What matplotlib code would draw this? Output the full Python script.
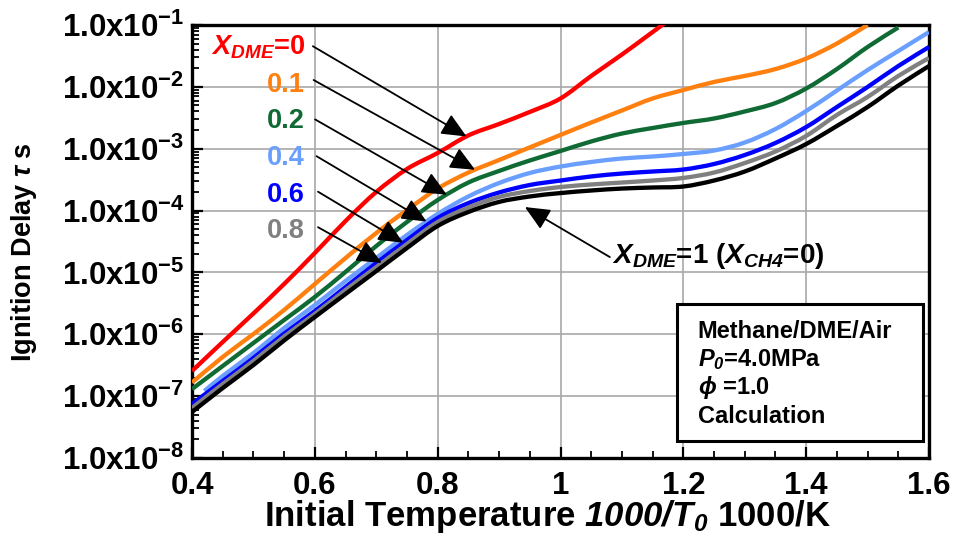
import numpy as np
import matplotlib
matplotlib.use("Agg")
import matplotlib.pyplot as plt
from matplotlib.ticker import MultipleLocator, LogLocator, FuncFormatter, NullFormatter
from matplotlib.patches import Rectangle, PathPatch
from matplotlib.path import Path

plt.rcParams['font.family'] = ['Liberation Sans', 'DejaVu Sans']
plt.rcParams['font.weight'] = 'bold'
plt.rcParams['axes.labelweight'] = 'bold'
plt.rcParams['mathtext.fontset'] = 'custom'
plt.rcParams['mathtext.rm'] = 'Liberation Sans:bold'
plt.rcParams['mathtext.it'] = 'Liberation Sans:italic:bold'
plt.rcParams['mathtext.sf'] = 'Liberation Sans:italic:bold'
plt.rcParams['mathtext.bf'] = 'Liberation Sans:bold'
plt.rcParams['mathtext.default'] = 'rm'

# inverse initial temperature, 1000/T0 [1000/K]
inv_temp = [0.40, 0.45, 0.50, 0.55, 0.60, 0.65, 0.70, 0.75, 0.80, 0.85, 0.90,
            0.95, 1.00, 1.05, 1.10, 1.15, 1.20, 1.25, 1.30, 1.35, 1.40, 1.45,
            1.50, 1.55, 1.60]
inv_temp_dme04 = [0.42] + inv_temp[1:]

# ignition delay [s] for each DME mole fraction in the fuel
tau_dme00 = [2.55e-7, 7.50e-7, 2.17e-6, 6.50e-6, 2.06e-5, 6.78e-5, 2.00e-4,
             4.70e-4, 8.53e-4, 1.64e-3, 2.51e-3, 3.93e-3, 6.49e-3, 1.50e-2,
             3.33e-2, 7.70e-2, 1.78e-1]
tau_dme01 = [1.66e-7, 4.30e-7, 1.01e-6, 2.47e-6, 6.50e-6, 1.71e-5, 4.34e-5,
             1.02e-4, 2.27e-4, 4.12e-4, 6.57e-4, 1.05e-3, 1.67e-3, 2.65e-3,
             4.15e-3, 6.49e-3, 8.89e-3, 1.20e-2, 1.50e-2, 1.94e-2, 2.87e-2,
             5.02e-2, 1.00e-1]
tau_dme02 = [1.30e-7, 3.07e-7, 7.23e-7, 1.70e-6, 4.01e-6, 1.02e-5, 2.67e-5,
             6.53e-5, 1.48e-4, 2.84e-4, 4.37e-4, 6.45e-4, 9.18e-4, 1.31e-3,
             1.76e-3, 2.16e-3, 2.61e-3, 3.08e-3, 4.00e-3, 5.48e-3, 9.40e-3,
             1.94e-2, 4.41e-2, 9.12e-2]
tau_dme04 = [1.21e-7, 2.12e-7, 4.98e-7, 1.26e-6, 2.97e-6, 7.26e-6, 1.71e-5,
             4.03e-5, 8.81e-5, 1.69e-4, 2.79e-4, 4.05e-4, 5.15e-4, 6.10e-4,
             6.95e-4, 7.48e-4, 8.22e-4, 9.35e-4, 1.26e-3, 2.08e-3, 4.07e-3,
             8.73e-3, 1.87e-2, 3.80e-2, 7.70e-2]
tau_dme06 = [7.46e-8, 1.76e-7, 4.14e-7, 1.03e-6, 2.38e-6, 5.81e-6, 1.42e-5,
             3.34e-5, 7.59e-5, 1.32e-4, 1.96e-4, 2.59e-4, 3.06e-4, 3.56e-4,
             3.97e-4, 4.28e-4, 4.61e-4, 5.66e-4, 7.91e-4, 1.24e-3, 2.24e-3,
             4.72e-3, 9.95e-3, 2.17e-2, 4.41e-2]
tau_dme08 = [6.43e-8, 1.57e-7, 3.70e-7, 9.20e-7, 2.13e-6, 5.20e-6, 1.22e-5,
             2.88e-5, 6.53e-5, 1.12e-4, 1.66e-4, 2.07e-4, 2.40e-4, 2.64e-4,
             2.84e-4, 3.06e-4, 3.37e-4, 4.12e-4, 5.87e-4, 9.02e-4, 1.61e-3,
             3.51e-3, 6.86e-3, 1.50e-2, 2.93e-2]
tau_dme10 = [5.54e-8, 1.35e-7, 3.18e-7, 7.94e-7, 1.90e-6, 4.48e-6, 1.05e-5,
             2.48e-5, 5.63e-5, 9.48e-5, 1.38e-4, 1.69e-4, 1.92e-4, 2.11e-4,
             2.27e-4, 2.36e-4, 2.45e-4, 3.06e-4, 4.28e-4, 6.95e-4, 1.19e-3,
             2.33e-3, 4.72e-3, 1.05e-2, 2.17e-2]

dme_labels = ["0", "0.1", "0.2", "0.4", "0.6", "0.8"]
colors = ["#ff0000", "#ff7f0f", "#0f6a34", "#6a9fff", "#0000ff", "#808080", "#000000"]

series = [
    (inv_temp[:len(tau_dme00)], tau_dme00),
    (inv_temp[:len(tau_dme01)], tau_dme01),
    (inv_temp[:len(tau_dme02)], tau_dme02),
    (inv_temp_dme04, tau_dme04),
    (inv_temp, tau_dme06),
    (inv_temp, tau_dme08),
    (inv_temp, tau_dme10),
]


def smooth_path(xs, ys):
    """Cubic Bezier path through the points (Catmull-Rom tangents in log-y)."""
    x = np.asarray(xs, float)
    ly = np.log10(np.asarray(ys, float))
    p = np.column_stack([x, ly])
    ext = np.vstack([p[0], p, p[-1]])
    verts = [p[0]]
    codes = [Path.MOVETO]
    for i in range(len(p) - 1):
        p0, p1, p2, p3 = ext[i], ext[i + 1], ext[i + 2], ext[i + 3]
        c1 = p1 + (p2 - p0) / 6.0
        c2 = p2 - (p3 - p1) / 6.0
        verts += [c1, c2, p2]
        codes += [Path.CURVE4] * 3
    verts = np.array(verts)
    verts[:, 1] = 10 ** verts[:, 1]
    return Path(verts, codes)


fig = plt.figure(figsize=(9.56, 5.43), dpi=100)
ax = fig.add_axes([192 / 956, 1 - 458 / 543, 737 / 956, 433 / 543])

ax.set_yscale('log')
ax.set_xlim(0.4, 1.6)
ax.set_ylim(1e-8, 1e-1)

for (xs, ys), c in zip(series, colors):
    ax.add_patch(PathPatch(smooth_path(xs, ys), facecolor='none', edgecolor=c,
                           lw=3.1, capstyle='butt', joinstyle='round',
                           transform=ax.transData, zorder=3))

ax.xaxis.set_major_locator(MultipleLocator(0.2))
ax.xaxis.set_minor_locator(MultipleLocator(0.05))
ax.xaxis.set_major_formatter(FuncFormatter(lambda v, p: f"{v:g}"))
ax.yaxis.set_major_locator(LogLocator(base=10, numticks=20))
ax.yaxis.set_minor_locator(LogLocator(base=10, subs=np.arange(2, 10), numticks=20))
ax.yaxis.set_minor_formatter(NullFormatter())
ax.yaxis.set_major_formatter(
    FuncFormatter(lambda v, p: r"1.0x10$^{%d}$" % int(round(np.log10(v)))))

ax.tick_params(which='both', direction='in', top=False, right=False,
               labelsize=22.5)
ax.tick_params(axis='y', pad=5.5)
ax.tick_params(axis='x', pad=9)
ax.tick_params(which='major', length=8, width=1.6)
ax.tick_params(which='minor', length=5, width=1.3)

ax.grid(True, which='major', color='#a8a8a8', lw=1.2)
ax.set_axisbelow(True)
for s in ax.spines.values():
    s.set_linewidth(2.4)
    s.set_color('black')

ax.set_xlabel(r"Initial Temperature $\mathsf{1000/T_0}$ 1000/K", fontsize=25)
ax.set_ylabel(r"Ignition Delay $\mathit{\tau}$ s", fontsize=19.5)
ax.xaxis.set_label_coords(0.4817, -0.092)
ax.yaxis.set_label_coords(-0.208, 0.4765)


def on_curve(x, xs, ys):
    return 10 ** np.interp(x, xs, np.log10(ys))


# mixture labels with arrows pointing to their curves
label_y = [0.931, 0.845, 0.762, 0.677, 0.591, 0.508]
tail_pos = [(0.164, 0.951), (0.165, 0.873), (0.167, 0.782),
            (0.169, 0.697), (0.171, 0.615), (0.171, 0.533)]
tip_x = [0.847, 0.861, 0.815, 0.782, 0.744, 0.709]
arrow_kw = dict(arrowstyle='-|>,head_length=0.8,head_width=0.36',
                mutation_scale=19, color='black', lw=1.3,
                shrinkA=0, shrinkB=0)

for i, lab in enumerate(dme_labels):
    txt = r"$\mathsf{X}_{\mathsf{DME}}$=0" if i == 0 else lab
    ax.text(0.1533, label_y[i], txt, transform=ax.transAxes, ha='right',
            va='baseline', color=colors[i], fontsize=19.5)
    xs, ys = series[i]
    ax.annotate('', xy=(tip_x[i], on_curve(tip_x[i], xs, ys)), xycoords='data',
                xytext=tail_pos[i], textcoords='axes fraction',
                arrowprops=arrow_kw, zorder=5)

ax.annotate('', xy=(0.942, 1.14e-4), xycoords='data',
            xytext=(0.567, 0.464), textcoords='axes fraction',
            arrowprops=arrow_kw, zorder=5)
ax.text(0.570, 0.451, r"$\mathsf{X}_{\mathsf{DME}}$=1 ($\mathsf{X}_{\mathsf{CH4}}$=0)",
        transform=ax.transAxes, ha='left', va='baseline', fontsize=20,
        color='black')

# conditions box
ax.add_patch(Rectangle((0.6577, 0.040), 0.3346, 0.3157, transform=ax.transAxes,
                       facecolor='white', edgecolor='black', lw=2.2, zorder=6))
cond_lines = ["Methane/DME/Air", r"$\mathsf{P_0}$=4.0MPa",
              r"$\mathsf{\phi}$ =1.0", "Calculation"]
cond_y = [0.277, 0.2125, 0.148, 0.0815]
for t, y in zip(cond_lines, cond_y):
    ax.text(0.686, y, t, transform=ax.transAxes, ha='left', va='baseline',
            fontsize=17, zorder=7)

fig.savefig("out.png", dpi=100)
